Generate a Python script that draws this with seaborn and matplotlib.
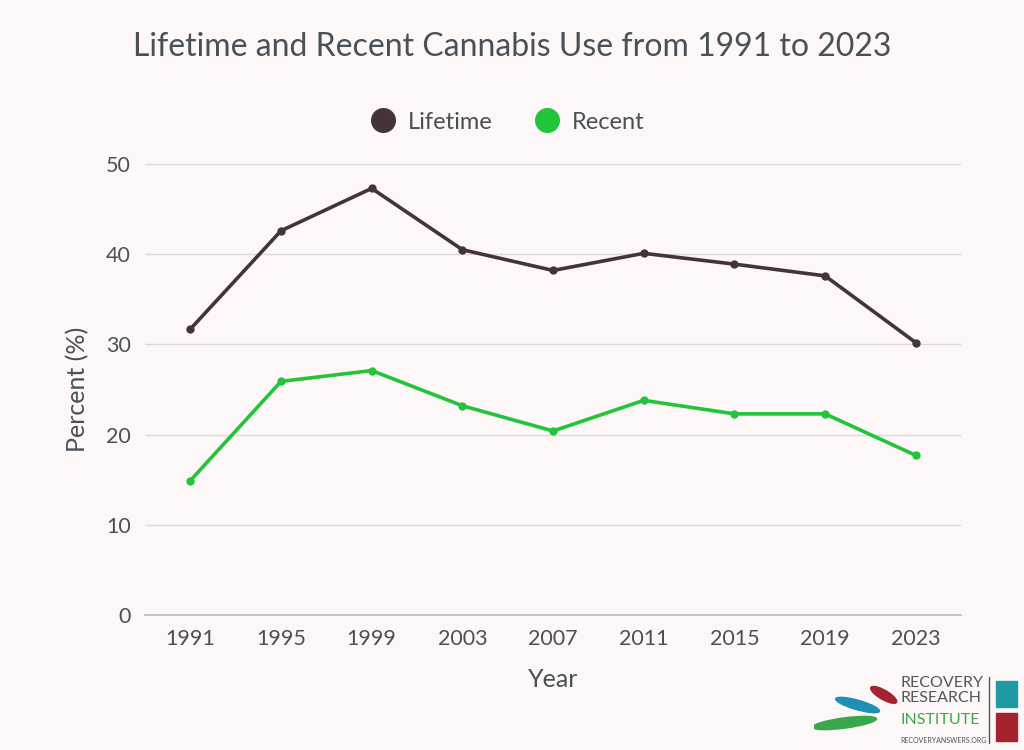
import numpy as np
import pandas as pd
import matplotlib
matplotlib.use('Agg')
import matplotlib.pyplot as plt
from matplotlib.patches import Ellipse, Rectangle
import seaborn as sns

years = ['1991', '1995', '1999', '2003', '2007', '2011', '2015', '2019', '2023']
lifetime = [31.7, 42.6, 47.3, 40.5, 38.2, 40.1, 38.9, 37.6, 30.2]
recent = [14.9, 25.9, 27.1, 23.2, 20.4, 23.8, 22.3, 22.3, 17.7]
series_names = ['Lifetime', 'Recent']
colors = ['#45333a', '#22c43a']

bg = '#fdf7f7'
txt = '#4a5057'

df = pd.DataFrame({
    'Year': years * 2,
    'Percent': lifetime + recent,
    'Series': ['Lifetime'] * len(years) + ['Recent'] * len(years),
})

sns.set_theme(style='white')
plt.rcParams['font.family'] = ['Lato', 'DejaVu Sans']

fig = plt.figure(figsize=(10.24, 7.5), dpi=100, facecolor=bg)
ax = fig.add_axes([0.1416, 0.18, 0.797, 0.6013])
ax.set_facecolor(bg)

sns.lineplot(data=df, x='Year', y='Percent', hue='Series', hue_order=series_names,
             palette=colors, marker='o', markersize=6, markeredgewidth=0,
             linewidth=2.6, sort=False, ax=ax, legend=False)

ax.set_xlim(-0.5, len(years) - 0.5)
ax.set_ylim(0, 50)
ax.set_yticks([0, 10, 20, 30, 40, 50])
ax.yaxis.grid(True, color='#dedada', linewidth=1)
ax.set_axisbelow(True)
for s in ['top', 'right', 'left']:
    ax.spines[s].set_visible(False)
ax.spines['bottom'].set_color('#bdbdbd')
ax.tick_params(axis='both', length=0, labelsize=15.5, colors=txt, pad=10)
ax.set_xlabel('Year', fontsize=18, color=txt, labelpad=14)
ax.set_ylabel('Percent (%)', fontsize=18, color=txt, labelpad=12)

# legend
handles = [plt.Line2D([], [], marker='o', linestyle='', markersize=17,
                      color=c) for c in colors]
fig.legend(handles, series_names, loc='center', bbox_to_anchor=(0.49, 0.837),
           ncol=2, frameon=False, fontsize=17, labelcolor=txt,
           handletextpad=0.05, columnspacing=1.3)

fig.suptitle('Lifetime and Recent Cannabis Use from 1991 to 2023',
             x=0.5, y=0.958, fontsize=23, color=txt)

# logo
lax = fig.add_axes([0.795, 0.015, 0.085, 0.075])
lax.set_xlim(0, 1)
lax.set_ylim(0, 1)
lax.axis('off')
lax.add_patch(Ellipse((0.35, 0.28), 0.75, 0.18, angle=12, color='#3aa84a'))
lax.add_patch(Ellipse((0.5, 0.6), 0.55, 0.16, angle=-25, color='#1f8fb3'))
lax.add_patch(Ellipse((0.8, 0.78), 0.4, 0.14, angle=-45, color='#a3232f'))

fig.text(0.879, 0.06, 'RECOVERY\nRESEARCH', fontsize=11.5, color='#555555',
         ha='left', va='bottom', linespacing=1.1)
fig.text(0.879, 0.031, 'INSTITUTE', fontsize=11.5, color='#3aa84a',
         ha='left', va='bottom')
fig.text(0.879, 0.008, 'RECOVERYANSWERS.ORG', fontsize=5, color='#555555',
         ha='left', va='bottom')
fig.add_artist(plt.Line2D([0.966, 0.966], [0.01, 0.097], color='#555555',
                          linewidth=1, transform=fig.transFigure))
fig.add_artist(Rectangle((0.973, 0.057), 0.02, 0.035, color='#1f9aa3',
                         transform=fig.transFigure))
fig.add_artist(Rectangle((0.973, 0.012), 0.02, 0.038, color='#a3232f',
                         transform=fig.transFigure))

fig.savefig('out.png', dpi=100, facecolor=bg)
